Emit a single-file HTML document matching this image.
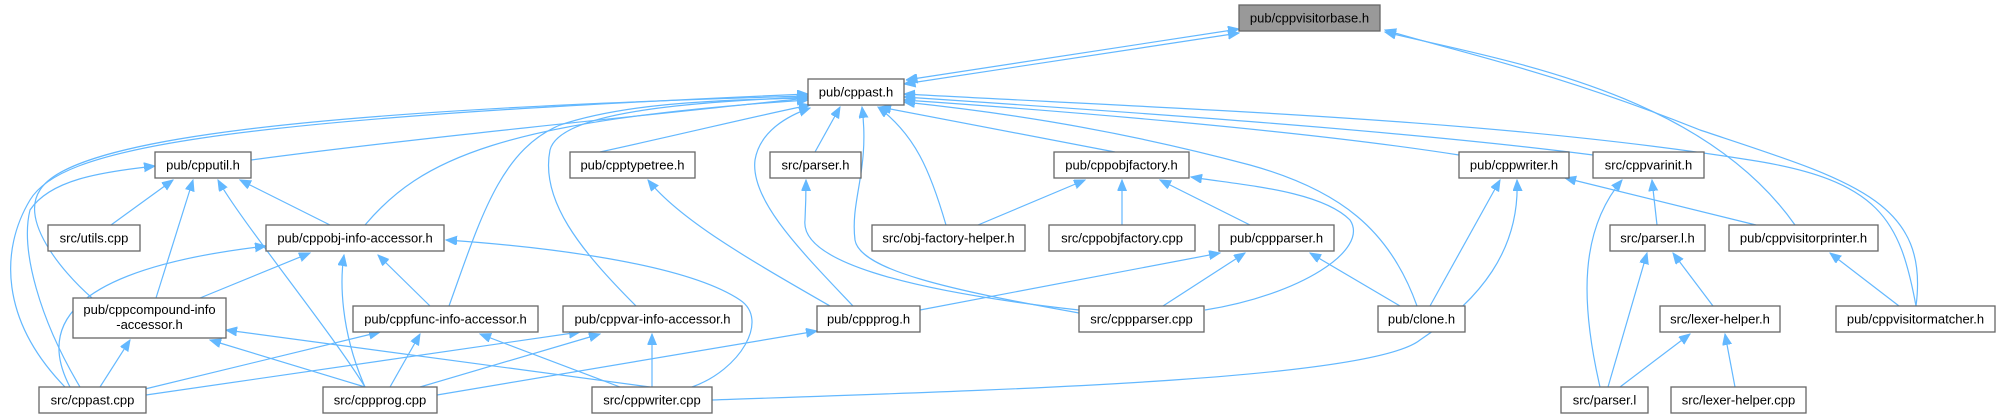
<!DOCTYPE html>
<html><head><meta charset="utf-8">
<style>
html,body{margin:0;padding:0;background:#fff;}
svg{display:block;}
text{font-family:"Liberation Sans",Arial,sans-serif;font-size:13px;fill:#000;}
</style></head>
<body>
<svg id="g" width="2003" height="417" viewBox="0 0 2003 417" xmlns="http://www.w3.org/2000/svg">
<defs>
<marker id="a" markerUnits="userSpaceOnUse" markerWidth="12" markerHeight="10" refX="11" refY="4.5" orient="auto">
<path d="M0,0 L11,4.5 L0,9 z" fill="#63b8ff" stroke="#63b8ff"/>
</marker>
<marker id="b" markerUnits="userSpaceOnUse" markerWidth="12" markerHeight="10" refX="0" refY="4.5" orient="auto">
<path d="M11,0 L0,4.5 L11,9 z" fill="#63b8ff" stroke="#63b8ff"/>
</marker>
</defs>
<g id="edges" fill="none" stroke="#63b8ff" stroke-width="1.2"></g>
<g id="nodes" stroke="#666" stroke-width="1.3">
<rect x="1239" y="5" width="141" height="26" fill="#999"/>
<rect x="808" y="79" width="96" height="26" fill="#fff"/>
<rect x="155" y="152" width="96" height="26" fill="#fff"/>
<rect x="570" y="152" width="125" height="26" fill="#fff"/>
<rect x="770" y="152" width="91" height="26" fill="#fff"/>
<rect x="1054" y="152" width="135" height="26" fill="#fff"/>
<rect x="1459" y="152" width="110" height="26" fill="#fff"/>
<rect x="1593" y="152" width="111" height="26" fill="#fff"/>
<rect x="48" y="225" width="92" height="26" fill="#fff"/>
<rect x="266" y="225" width="178" height="26" fill="#fff"/>
<rect x="872" y="225" width="153" height="26" fill="#fff"/>
<rect x="1049" y="225" width="146" height="26" fill="#fff"/>
<rect x="1219" y="225" width="115" height="26" fill="#fff"/>
<rect x="1610" y="225" width="95" height="26" fill="#fff"/>
<rect x="1729" y="225" width="149" height="26" fill="#fff"/>
<rect x="73" y="298" width="153" height="40" fill="#fff"/>
<rect x="353" y="306" width="185" height="26" fill="#fff"/>
<rect x="563" y="306" width="179" height="26" fill="#fff"/>
<rect x="817" y="306" width="103" height="26" fill="#fff"/>
<rect x="1079" y="306" width="125" height="26" fill="#fff"/>
<rect x="1378" y="306" width="87" height="26" fill="#fff"/>
<rect x="1660" y="306" width="120" height="26" fill="#fff"/>
<rect x="1836" y="306" width="159" height="26" fill="#fff"/>
<rect x="39" y="387" width="107" height="26" fill="#fff"/>
<rect x="323" y="387" width="114" height="26" fill="#fff"/>
<rect x="592" y="387" width="120" height="26" fill="#fff"/>
<rect x="1561" y="387" width="87" height="26" fill="#fff"/>
<rect x="1671" y="387" width="135" height="26" fill="#fff"/>
</g>
<g text-anchor="middle">
<text x="1309.5" y="22.5">pub/cppvisitorbase.h</text>
<text x="856" y="96.5">pub/cppast.h</text>
<text x="203" y="169.5">pub/cpputil.h</text>
<text x="632.5" y="169.5">pub/cpptypetree.h</text>
<text x="815.5" y="169.5">src/parser.h</text>
<text x="1121.5" y="169.5">pub/cppobjfactory.h</text>
<text x="1514" y="169.5">pub/cppwriter.h</text>
<text x="1648.5" y="169.5">src/cppvarinit.h</text>
<text x="94" y="242.5">src/utils.cpp</text>
<text x="355" y="242.5">pub/cppobj-info-accessor.h</text>
<text x="948.5" y="242.5">src/obj-factory-helper.h</text>
<text x="1122" y="242.5">src/cppobjfactory.cpp</text>
<text x="1276.5" y="242.5">pub/cppparser.h</text>
<text x="1657.5" y="242.5">src/parser.l.h</text>
<text x="1803.5" y="242.5">pub/cppvisitorprinter.h</text>
<text x="149.5" y="314">pub/cppcompound-info</text>
<text x="149.5" y="329">-accessor.h</text>
<text x="445.5" y="323.5">pub/cppfunc-info-accessor.h</text>
<text x="652.5" y="323.5">pub/cppvar-info-accessor.h</text>
<text x="868.5" y="323.5">pub/cppprog.h</text>
<text x="1141.5" y="323.5">src/cppparser.cpp</text>
<text x="1421.5" y="323.5">pub/clone.h</text>
<text x="1720" y="323.5">src/lexer-helper.h</text>
<text x="1915.5" y="323.5">pub/cppvisitormatcher.h</text>
<text x="92.5" y="404.5">src/cppast.cpp</text>
<text x="380" y="404.5">src/cppprog.cpp</text>
<text x="652" y="404.5">src/cppwriter.cpp</text>
<text x="1604.5" y="404.5">src/parser.l</text>
<text x="1738.5" y="404.5">src/lexer-helper.cpp</text>
</g>
</svg>
<script>
var E=[
"M906,80 L1239,29","M904,84 L1239,33",
"M1795,225 C1700,90 1500,60 1385,32",
"M1916,306 C1930,200 1850,180 1700,130 C1550,70 1450,50 1385,30",
"M251,160 C400,140 600,120 808,98",
"M600,152 C700,130 760,115 810,105",
"M815,152 L840,107",
"M1115,152 L880,107",
"M1459,155 C1300,130 1050,110 904,100",
"M1593,155 C1400,130 1100,110 904,97",
"M1916,306 C1900,220 1880,180 1750,160 C1500,120 1200,110 904,94",
"M1417,306 C1390,230 1340,190 1250,165 C1100,125 980,110 904,102",
"M946,225 C930,170 915,135 878,107",
"M853,306 C800,250 750,200 755,160 C760,130 790,115 810,108",
"M1079,313 C950,290 860,270 855,240 C850,200 870,170 862,107",
"M365,225 C420,160 500,120 808,100",
"M92,298 C60,270 20,220 40,190 C70,140 300,110 808,96",
"M449,306 C480,220 500,150 560,125 C620,105 700,100 808,98",
"M636,306 C580,250 540,200 550,150 C560,110 700,102 808,97",
"M65,387 C0,320 0,250 30,200 C60,150 200,120 808,94",
// cpputil
"M111,225 L173,180","M156,298 L193,180","M365,387 C330,330 240,220 218,180","M330,225 L240,180","M80,387 C40,320 20,250 30,210 C50,180 100,172 155,166",
// cppobj-info
"M200,298 L310,253","M430,306 L378,255","M70,387 C40,330 60,270 266,246","M365,387 C340,330 340,280 344,255","M692,387 C740,370 770,320 740,300 C680,260 520,245 446,240",
// compound
"M100,387 L130,340","M365,387 L210,340","M650,387 L226,330",
// func
"M145,389 L380,332","M390,387 L420,334","M620,387 L480,334",
// var
"M146,395 L580,332","M420,387 L600,334","M652,387 L652,334",
// typetree
"M830,306 C750,260 680,220 648,180",
// parser.h
"M1079,310 C900,290 800,260 805,220 C806,200 806,190 806,180",
// objfactory
"M978,225 L1085,180","M1122,225 L1122,180","M1250,225 L1160,180","M1205,310 C1300,295 1370,250 1350,220 C1320,190 1240,185 1191,177",
// cppparser.h
"M920,310 L1220,253","M1163,306 L1245,253","M1400,306 L1310,253",
// cppprog.h
"M437,395 L817,331",
// cppwriter.h
"M1430,306 L1500,180","M712,400 C1000,390 1370,380 1420,340 C1480,300 1520,250 1517,180","M1756,225 L1565,178",
// cppvarinit
"M1600,387 C1580,300 1580,230 1622,180","M1657,225 L1652,180",
// parser.l.h
"M1608,387 L1647,253","M1713,306 L1673,253",
// lexer-helper.h
"M1620,387 L1690,334","M1735,387 L1725,334",
// printer
"M1899,306 L1830,253"
];
var g=document.getElementById("edges"),ns="http://www.w3.org/2000/svg";
E.forEach(function(d,i){var p=document.createElementNS(ns,"path");p.setAttribute("d",d);p.setAttribute("marker-end","url(#a)");if(i<2)p.setAttribute("marker-start","url(#b)");g.appendChild(p);});
</script>
</body></html>
